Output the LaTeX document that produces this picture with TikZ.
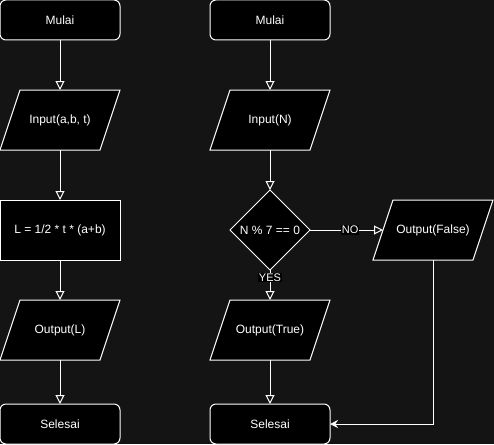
\documentclass[tikz,border=0pt]{standalone}
\usepackage{fontspec}
\setmainfont{Liberation Sans}
\usetikzlibrary{arrows.meta,positioning,calc,backgrounds,shapes.geometric}
\definecolor{bgdark}{RGB}{20,20,20}

\begin{document}
\begin{tikzpicture}[x=1pt,y=1pt,>=Latex,font=\fontsize{12}{14}\selectfont,
 term/.style={draw=white,fill=black,text=white,rounded corners=6pt,minimum width=120pt,minimum height=40pt,line width=1pt,outer sep=0pt},
 proc/.style={draw=white,fill=black,text=white,minimum width=120pt,minimum height=60pt,line width=1pt,outer sep=0pt},
 io/.style={text=white,minimum width=100pt,minimum height=60pt,inner sep=1pt,outer sep=0pt},
 iobox/.style={draw=white,fill=black,line width=1pt},
 decide/.style={diamond,aspect=1,draw=white,fill=black,text=white,minimum width=80pt,minimum height=80pt,inner sep=0pt,line width=1pt,outer sep=0pt},
 link/.style={-{Triangle[open,length=9pt,width=9pt]},draw=white,line width=1pt},
 lbl/.style={fill=black,text=white,inner sep=1pt,font=\fontsize{11}{12}\selectfont}]
\useasboundingbox (0,0) rectangle (494,-444);
% left chart
\node[term] (start1) at (60,-20) {Mulai};
\node[io,below=50pt of start1] (in1) {Input(a,b, t)};
\node[proc,below=50pt of in1] (calc1) {L = 1/2 * t * (a+b)};
\node[io,below=40pt of calc1] (out1) {Output(L)};
\node[term,below=44pt of out1] (end1) {Selesai};
% right chart
\node[term] (start2) at (270,-20) {Mulai};
\node[io,below=50pt of start2] (in2) {Input(N)};
\node[decide,below=40pt of in2] (check) {N \% 7 == 0};
\node[io,below=30pt of check] (outT) {Output(True)};
\node[term,below=44pt of outT] (end2) {Selesai};
\node[io,right=73pt of check] (outF) {Output(False)};
% parallelograms behind the io texts
\begin{pgfonlayer}{background}
\fill[bgdark] (0,0) rectangle (494,-444);
\foreach \n in {in1,out1,in2,outT,outF}
 \draw[iobox] ($(\n.north west)+(10,0)$)--($(\n.north east)+(10,0)$)
  --($(\n.south east)-(10,0)$)--($(\n.south west)-(10,0)$)--cycle;
\end{pgfonlayer}
\draw[link] (start1)--(in1);\draw[link] (in1)--(calc1);
\draw[link] (calc1)--(out1);\draw[link] (out1)--(end1);
\draw[link] (start2)--(in2);\draw[link] (in2)--(check);
\draw[link] (check)--node[lbl,pos=0.25] {YES} (outT);
\draw[link] (check)--node[lbl,pos=0.55] {NO} (outF);
\draw[link] (outT)--(end2);
\draw[-{Stealth[length=8pt,width=8pt]},white,line width=1pt] (outF) |- (end2);
\end{tikzpicture}
\end{document}
